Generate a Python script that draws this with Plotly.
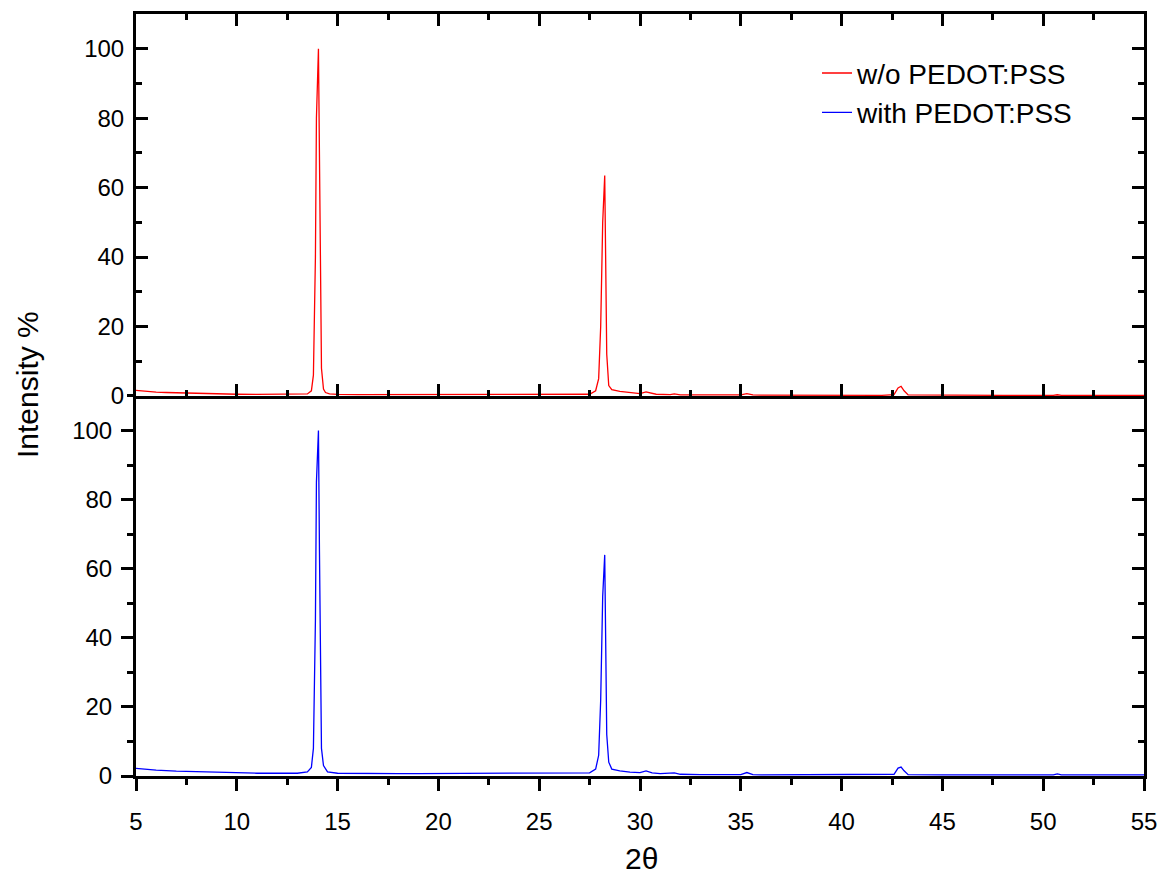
import plotly.graph_objects as go

# ---- data ----
two_theta_red = [5.0, 5.5, 6.0, 6.5, 7.0, 7.5, 8.0, 9.0, 10.0, 11.0, 12.0, 12.5, 13.0, 13.5, 13.7,
                 13.8, 13.9, 13.95, 14.05, 14.1, 14.15, 14.2, 14.3, 14.4, 14.6, 15.0, 16.0, 17.0,
                 18.0, 19.0, 20.0, 21.0, 21.3, 21.6, 22.0, 23.0, 24.0, 25.0, 25.5, 26.0, 27.0,
                 27.5, 27.8, 27.95, 28.05, 28.15, 28.25, 28.3, 28.35, 28.45, 28.6, 29.0, 29.5,
                 30.0, 30.3, 30.5, 30.8, 31.5, 31.7, 32.0, 33.0, 34.0, 35.0, 35.3, 35.6, 36.0,
                 38.0, 40.0, 42.0, 42.6, 42.8, 42.95, 43.1, 43.3, 45.0, 48.0, 50.5, 50.7, 50.9,
                 53.0, 55.0]
intensity_red = [1.6, 1.3, 1.1, 1.0, 0.9, 0.8, 0.7, 0.6, 0.5, 0.45, 0.45, 0.5, 0.45, 0.6, 1.5,
                 6.0, 40.0, 80.0, 100.0, 70.0, 30.0, 8.0, 2.0, 1.0, 0.6, 0.45, 0.4, 0.4,
                 0.4, 0.4, 0.4, 0.4, 0.6, 0.4, 0.4, 0.4, 0.4, 0.45, 0.55, 0.45, 0.45,
                 0.5, 1.5, 5.0, 20.0, 50.0, 63.5, 40.0, 12.0, 3.0, 1.8, 1.3, 0.9,
                 0.7, 1.2, 0.9, 0.5, 0.4, 0.6, 0.35, 0.3, 0.3, 0.3, 0.7, 0.3, 0.25,
                 0.2, 0.2, 0.2, 0.4, 2.3, 2.8, 1.5, 0.3, 0.2, 0.2, 0.2, 0.35, 0.2,
                 0.2, 0.2]

two_theta_blue = [5.0, 5.5, 6.0, 7.0, 8.0, 9.0, 10.0, 11.0, 12.0, 12.5, 13.0, 13.5, 13.7,
                  13.8, 13.9, 13.95, 14.05, 14.1, 14.15, 14.2, 14.3, 14.5, 15.0, 16.0, 17.0,
                  18.0, 19.0, 20.0, 21.0, 22.0, 23.0, 24.0, 25.0, 26.0, 27.0, 27.5, 27.8,
                  27.95, 28.05, 28.15, 28.25, 28.3, 28.35, 28.45, 28.6, 29.0, 29.5, 30.0,
                  30.3, 30.6, 31.0, 31.7, 32.0, 33.0, 34.0, 35.0, 35.3, 35.6, 36.0, 40.0,
                  42.6, 42.8, 42.95, 43.1, 43.3, 45.0, 50.5, 50.7, 50.9, 55.0]
intensity_blue = [2.2, 1.9, 1.7, 1.4, 1.2, 1.0, 0.9, 0.8, 0.8, 0.9, 0.8, 1.2, 2.5,
                  8.0, 45.0, 85.0, 100.0, 65.0, 25.0, 8.0, 3.0, 1.2, 0.8, 0.7, 0.7,
                  0.7, 0.7, 0.7, 0.8, 0.8, 0.8, 0.8, 0.8, 0.8, 0.8, 0.9, 2.0,
                  6.0, 22.0, 52.0, 64.0, 40.0, 12.0, 4.0, 2.0, 1.5, 1.1, 1.0,
                  1.5, 0.9, 0.7, 0.9, 0.5, 0.4, 0.3, 0.4, 1.0, 0.4, 0.3, 0.3,
                  0.5, 2.3, 2.6, 1.5, 0.4, 0.3, 0.3, 0.6, 0.3, 0.3]

series_names = ["w/o PEDOT:PSS", "with PEDOT:PSS"]
x_tick_vals = [5, 10, 15, 20, 25, 30, 35, 40, 45, 50, 55]
y_tick_vals = [0, 20, 40, 60, 80, 100]

FONT = "Arial, Liberation Sans, sans-serif"

fig = go.Figure()
fig.add_trace(go.Scatter(x=two_theta_red, y=intensity_red, mode="lines",
                         line=dict(color="#ff0000", width=1.3), name=series_names[0],
                         xaxis="x", yaxis="y"))
fig.add_trace(go.Scatter(x=two_theta_blue, y=intensity_blue, mode="lines",
                         line=dict(color="#0000ff", width=1.3), name=series_names[1],
                         xaxis="x2", yaxis="y2"))
# invisible trace to anchor the right-hand axis of the lower panel
fig.add_trace(go.Scatter(x=[5], y=[0], mode="markers", marker=dict(opacity=0),
                         showlegend=False, hoverinfo="skip", xaxis="x2", yaxis="y3"))

split = 0.4987
common_x = dict(range=[5, 55], tickvals=x_tick_vals, linecolor="black", linewidth=3,
                tickwidth=2.5, ticklen=12, tickcolor="black", showgrid=False, zeroline=False,
                automargin=False,
                tickfont=dict(family=FONT, size=24, color="black"),
                minor=dict(dtick=2.5, ticklen=6, tickwidth=2.5, tickcolor="black"))
common_y = dict(range=[0, 110], tickvals=y_tick_vals, linecolor="black", linewidth=3,
                tickwidth=2.5, ticklen=12, tickcolor="black", showgrid=False, zeroline=False,
                automargin=False,
                tickfont=dict(family=FONT, size=24, color="black"),
                minor=dict(dtick=10, tick0=0, ticklen=6, tickwidth=2.5, tickcolor="black"))

L, R, T, B = 136, 19, 14, 99
PW, PH = 1163 - L - R, 875 - T - B

fig.update_layout(
    width=1163, height=875,
    margin=dict(l=L, r=R, t=T, b=B, autoexpand=False),
    paper_bgcolor="white", plot_bgcolor="white",
    xaxis=dict(**common_x, domain=[0, 1], anchor="y", ticks="inside", mirror="ticks",
               showticklabels=False, minor_ticks="inside"),
    yaxis=dict(**common_y, domain=[split, 1], anchor="x", ticks="inside", mirror="ticks",
               minor_ticks="inside", ticklabelstandoff=4),
    xaxis2=dict(**common_x, domain=[0, 1], anchor="y2", ticks="outside", mirror=False,
                minor_ticks="outside", ticklabelstandoff=10),
    yaxis2=dict(**common_y, domain=[0, split], anchor="x2", ticks="outside", mirror=False,
                minor_ticks="outside", ticklabelstandoff=4),
    yaxis3=dict(**common_y, domain=[0, split], anchor="x2", overlaying="y2", side="right",
                ticks="inside", minor_ticks="inside", showticklabels=False),
    legend=dict(x=0.6756, y=0.955, xanchor="left", yanchor="top",
                font=dict(family=FONT, size=28, color="black"),
                bgcolor="rgba(0,0,0,0)", borderwidth=0, tracegroupgap=0),
    annotations=[
        dict(text="Intensity %", x=(27 - L) / PW, y=(875 - B - 385) / PH,
             xref="paper", yref="paper",
             textangle=-90, showarrow=False, font=dict(family=FONT, size=30, color="black"),
             xanchor="center", yanchor="middle"),
        dict(text="2θ", x=(641 - L) / PW, y=(875 - B - 858) / PH, xref="paper", yref="paper",
             showarrow=False,
             font=dict(family=FONT, size=30, color="black"), xanchor="center", yanchor="middle"),
    ],
)

fig.write_html("out.html")
